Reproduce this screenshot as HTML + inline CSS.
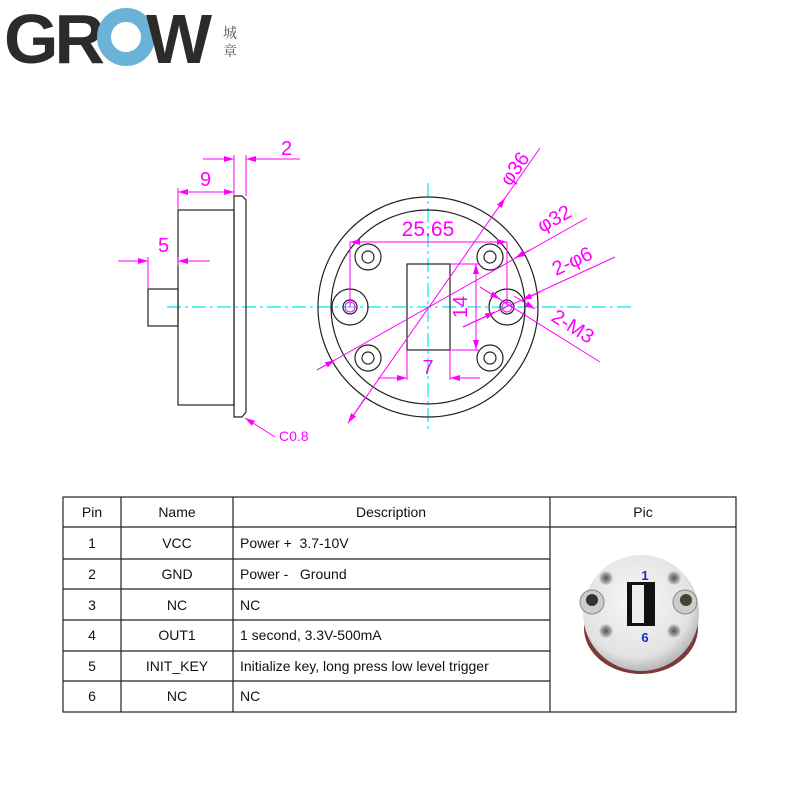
<!DOCTYPE html>
<html><head><meta charset="utf-8"><style>
body{margin:0;background:#fff;width:800px;height:800px;overflow:hidden;font-family:"Liberation Sans",sans-serif}
svg{position:absolute;left:0;top:0}
</style></head><body>
<svg width="800" height="800" viewBox="0 0 800 800" xmlns="http://www.w3.org/2000/svg">
<defs>
<marker id="a" viewBox="0 0 10 6" refX="10" refY="3" markerWidth="10" markerHeight="6" orient="auto-start-reverse" markerUnits="userSpaceOnUse"><path d="M0,0L10,3L0,6z" fill="#f0f"/></marker>
<radialGradient id="disc" cx="0.45" cy="0.4" r="0.6"><stop offset="0" stop-color="#f8f8f8"/><stop offset="0.8" stop-color="#e2e2e2"/><stop offset="1" stop-color="#b8b8b8"/></radialGradient>
<radialGradient id="bs" cx="0.5" cy="0.5" r="0.5"><stop offset="0" stop-color="#555"/><stop offset="0.6" stop-color="#999"/><stop offset="1" stop-color="#ddd"/></radialGradient>
</defs>
<!-- Logo -->
<text x="4" y="63" font-family="Liberation Sans" font-weight="bold" font-size="70" fill="#2b2b2b" letter-spacing="-4">GR</text>
<circle cx="126" cy="37" r="22" fill="none" stroke="#6ab2d6" stroke-width="14"/>
<text x="146" y="63" font-family="Liberation Sans" font-weight="bold" font-size="70" fill="#2b2b2b">W</text>
<text x="223" y="38" font-family="Noto Serif CJK SC,serif" font-size="14" fill="#555">城</text>
<text x="223" y="56" font-family="Noto Serif CJK SC,serif" font-size="14" fill="#555">章</text>

<g stroke="#0ee" stroke-width="1.2" stroke-dasharray="14,4,3,4" fill="none">
<line x1="167" y1="307" x2="634" y2="307"/>
<line x1="428" y1="183" x2="428" y2="432"/>
</g>
<g stroke="#222" stroke-width="1.2" fill="none">
<rect x="178" y="210" width="56" height="195"/>
<path d="M234,196 H242 L246,200 V412 L242,417 H234 Z"/>
<rect x="148" y="289" width="30" height="37"/>
</g>
<g stroke="#222" stroke-width="1.2" fill="none">
<circle cx="428" cy="307" r="110"/>
<circle cx="428" cy="307" r="97"/>
<rect x="407" y="264" width="43" height="86"/>
<circle cx="350" cy="307" r="18"/><circle cx="350" cy="307" r="7"/>
<circle cx="507" cy="307" r="18"/><circle cx="507" cy="307" r="7"/>
<circle cx="368" cy="257" r="13"/><circle cx="368" cy="257" r="6"/>
<circle cx="490" cy="257" r="13"/><circle cx="490" cy="257" r="6"/>
<circle cx="368" cy="358" r="13"/><circle cx="368" cy="358" r="6"/>
<circle cx="490" cy="358" r="13"/><circle cx="490" cy="358" r="6"/>
</g>
<g stroke="#f0f" stroke-width="1" fill="none">
<circle cx="350" cy="307" r="5"/><circle cx="507" cy="307" r="5"/>
<line x1="234" y1="155" x2="234" y2="196"/><line x1="246" y1="155" x2="246" y2="196"/>
<line x1="203" y1="159" x2="234" y2="159" marker-end="url(#a)"/>
<line x1="300" y1="159" x2="246" y2="159" marker-end="url(#a)"/>
<line x1="178" y1="188" x2="178" y2="210"/>
<line x1="178" y1="192" x2="234" y2="192" marker-start="url(#a)" marker-end="url(#a)"/>
<line x1="148" y1="257" x2="148" y2="289"/><line x1="178" y1="257" x2="178" y2="266"/>
<line x1="118" y1="261" x2="148" y2="261" marker-end="url(#a)"/>
<line x1="210" y1="261" x2="178" y2="261" marker-end="url(#a)"/>
<line x1="275" y1="437" x2="245" y2="418" marker-end="url(#a)"/>
<line x1="350" y1="242" x2="350" y2="307"/><line x1="507" y1="242" x2="507" y2="307"/>
<line x1="350" y1="242" x2="507" y2="242" marker-start="url(#a)" marker-end="url(#a)"/>
<line x1="348" y1="423" x2="540" y2="148"/>
<line x1="348" y1="423" x2="365" y2="398" marker-start="url(#a)"/>
<line x1="499" y1="207" x2="505" y2="198" marker-end="url(#a)"/>
<line x1="317" y1="370" x2="587" y2="218"/>
<line x1="335" y1="360" x2="317" y2="370" marker-start="url(#a)"/>
<line x1="515" y1="258" x2="530" y2="250" marker-start="url(#a)"/>
<line x1="450" y1="264" x2="480" y2="264"/><line x1="450" y1="350" x2="480" y2="350"/>
<line x1="476" y1="264" x2="476" y2="350" marker-start="url(#a)" marker-end="url(#a)"/>
<line x1="407" y1="350" x2="407" y2="380"/><line x1="450" y1="350" x2="450" y2="380"/>
<line x1="378" y1="378" x2="407" y2="378" marker-end="url(#a)"/>
<line x1="480" y1="378" x2="450" y2="378" marker-end="url(#a)"/>
<line x1="463" y1="327" x2="615" y2="257"/>
<line x1="463" y1="327" x2="495" y2="312" marker-end="url(#a)"/>
<line x1="540" y1="292" x2="522" y2="300" marker-end="url(#a)"/>
<line x1="480" y1="287" x2="600" y2="362"/>
<line x1="480" y1="287" x2="500" y2="299" marker-end="url(#a)"/>
<line x1="535" y1="309" x2="514" y2="296" marker-start="url(#a)"/>
</g>
<g fill="#f0f" font-family="Liberation Sans" font-size="20">
<text x="281" y="155">2</text>
<text x="200" y="186">9</text>
<text x="158" y="252">5</text>
<text x="279" y="441" font-size="14">C0.8</text>
<text x="428" y="236" text-anchor="middle" font-size="21">25.65</text>
<text x="428" y="374" text-anchor="middle">7</text>
<text transform="translate(467,307) rotate(-90)" text-anchor="middle">14</text>
<text transform="translate(510,187) rotate(-55)">φ36</text>
<text transform="translate(542,233) rotate(-29)">φ32</text>
<text transform="translate(556,276) rotate(-25)">2-φ6</text>
<text transform="translate(550,320) rotate(32)">2-M3</text>
</g>

<g stroke="#222" stroke-width="1.2" fill="none">
<rect x="63" y="497" width="673" height="215"/>
<line x1="63" y1="527" x2="736" y2="527"/>
<line x1="63" y1="559" x2="550" y2="559"/>
<line x1="63" y1="589" x2="550" y2="589"/>
<line x1="63" y1="620" x2="550" y2="620"/>
<line x1="63" y1="651" x2="550" y2="651"/>
<line x1="63" y1="681" x2="550" y2="681"/>
<line x1="121" y1="497" x2="121" y2="712"/>
<line x1="233" y1="497" x2="233" y2="712"/>
<line x1="550" y1="497" x2="550" y2="712"/>
</g>
<g font-family="Liberation Sans" font-size="14" fill="#111">
<g text-anchor="middle">
<text x="92" y="517">Pin</text><text x="177" y="517">Name</text><text x="391" y="517">Description</text><text x="643" y="517">Pic</text>
<text x="92" y="548">1</text><text x="177" y="548">VCC</text>
<text x="92" y="579">2</text><text x="177" y="579">GND</text>
<text x="92" y="610">3</text><text x="177" y="610">NC</text>
<text x="92" y="640">4</text><text x="177" y="640">OUT1</text>
<text x="92" y="671">5</text><text x="177" y="671">INIT_KEY</text>
<text x="92" y="701">6</text><text x="177" y="701">NC</text>
</g>
<text x="240" y="548">Power +&#160;&#160;3.7-10V</text>
<text x="240" y="579">Power -&#160;&#160;&#160;Ground</text>
<text x="240" y="610">NC</text>
<text x="240" y="640">1 second, 3.3V-500mA</text>
<text x="240" y="671">Initialize key, long press low level trigger</text>
<text x="240" y="701">NC</text>
</g>
<ellipse cx="641" cy="628" rx="57" ry="46" fill="#7a3a3a"/>
<circle cx="641" cy="613" r="58" fill="url(#disc)"/>
<rect x="627" y="582" width="28" height="44" fill="#111"/>
<rect x="632" y="585" width="12" height="38" fill="#eee"/>
<circle cx="606" cy="578" r="7" fill="url(#bs)"/><circle cx="674" cy="578" r="7" fill="url(#bs)"/>
<circle cx="606" cy="631" r="7" fill="url(#bs)"/><circle cx="674" cy="631" r="7" fill="url(#bs)"/>
<ellipse cx="592" cy="602" rx="12" ry="12" fill="#ccc" stroke="#888"/><circle cx="592" cy="600" r="6" fill="#333"/>
<ellipse cx="685" cy="602" rx="12" ry="12" fill="#ccc" stroke="#888"/><circle cx="686" cy="600" r="6" fill="#443"/>
<text x="645" y="580" font-size="13" font-weight="bold" fill="#1a2fbf" text-anchor="middle">1</text>
<text x="645" y="642" font-size="13" font-weight="bold" fill="#1a2fbf" text-anchor="middle">6</text>
</svg>
</body></html>
